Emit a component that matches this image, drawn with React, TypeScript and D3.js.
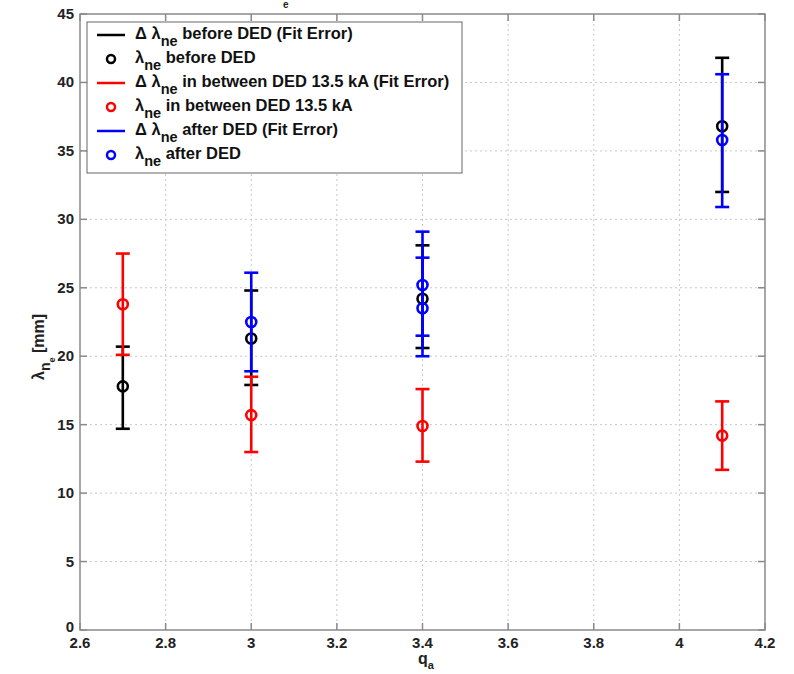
import { useEffect, useRef } from 'react';
import * as d3 from 'd3';

// before DED
const beforeX = [2.7, 3.0, 3.4, 4.1];
const beforeY = [17.8, 21.3, 24.2, 36.8];
const beforeLo = [14.7, 17.9, 20.6, 32.0];
const beforeHi = [20.7, 24.8, 28.1, 41.8];

// in between DED 13.5 kA
const betweenX = [2.7, 3.0, 3.4, 4.1];
const betweenY = [23.8, 15.7, 14.9, 14.2];
const betweenLo = [20.1, 13.0, 12.3, 11.7];
const betweenHi = [27.5, 18.5, 17.6, 16.7];

// after DED
const afterX = [3.0, 3.4, 3.4, 4.1];
const afterY = [22.5, 25.2, 23.5, 35.8];
const afterLo = [18.9, 21.5, 20.0, 30.9];
const afterHi = [26.1, 29.1, 27.2, 40.6];

const xTicks = [2.6, 2.8, 3, 3.2, 3.4, 3.6, 3.8, 4, 4.2];
const yTicks = [0, 5, 10, 15, 20, 25, 30, 35, 40, 45];

const legendLabels = [
  { pre: 'Δ λ', post: ' before DED (Fit Error)' },
  { pre: 'λ', post: ' before DED' },
  { pre: 'Δ λ', post: ' in between DED 13.5 kA (Fit Error)' },
  { pre: 'λ', post: ' in between DED 13.5 kA' },
  { pre: 'Δ λ', post: ' after DED (Fit Error)' },
  { pre: 'λ', post: ' after DED' },
];

export default function App() {
  const svgRef = useRef<SVGSVGElement>(null);

  useEffect(() => {
    if (!svgRef.current) return;
    const svg = d3.select(svgRef.current);
    svg.selectAll('*').remove();

    const font = 'Arial, "Liberation Sans", sans-serif';
    const left = 80, right = 765, top = 14, bottom = 630;

    const x = d3.scaleLinear().domain([2.6, 4.2]).range([left, right]);
    const y = d3.scaleLinear().domain([0, 45]).range([bottom, top]);

    svg.append('rect').attr('width', 794).attr('height', 674).attr('fill', 'white');

    // grid
    const grid = svg.append('g').attr('stroke', '#c8c8c8').attr('stroke-width', 1)
      .attr('stroke-dasharray', '2,3');
    xTicks.slice(1, -1).forEach(t => {
      grid.append('line').attr('x1', x(t)).attr('x2', x(t)).attr('y1', top).attr('y2', bottom);
    });
    yTicks.slice(1, -1).forEach(t => {
      grid.append('line').attr('x1', left).attr('x2', right).attr('y1', y(t)).attr('y2', y(t));
    });

    // frame + inward ticks
    const frame = svg.append('g').attr('stroke', '#8a8a8a').attr('stroke-width', 1.5).attr('fill', 'none');
    frame.append('rect').attr('x', left).attr('y', top).attr('width', right - left).attr('height', bottom - top);
    xTicks.forEach(t => {
      frame.append('line').attr('x1', x(t)).attr('x2', x(t)).attr('y1', bottom).attr('y2', bottom - 7);
      frame.append('line').attr('x1', x(t)).attr('x2', x(t)).attr('y1', top).attr('y2', top + 7);
    });
    yTicks.forEach(t => {
      frame.append('line').attr('x1', left).attr('x2', left + 7).attr('y1', y(t)).attr('y2', y(t));
      frame.append('line').attr('x1', right).attr('x2', right - 7).attr('y1', y(t)).attr('y2', y(t));
    });

    // tick labels
    svg.append('g').selectAll('text').data(xTicks).join('text')
      .attr('x', d => x(d)).attr('y', 648)
      .attr('text-anchor', 'middle')
      .attr('font-family', font).attr('font-weight', 'bold').attr('font-size', 15)
      .attr('fill', '#222')
      .text(d => String(d));
    svg.append('g').selectAll('text').data(yTicks).join('text')
      .attr('x', 74).attr('y', d => y(d) + (d === 0 ? 2 : 5))
      .attr('text-anchor', 'end')
      .attr('font-family', font).attr('font-weight', 'bold').attr('font-size', 15)
      .attr('fill', '#222')
      .text(d => String(d));

    // axis labels
    const xl = svg.append('text').attr('x', 418).attr('y', 664)
      .attr('font-family', font).attr('font-weight', 'bold').attr('font-size', 16).attr('fill', '#222');
    xl.append('tspan').text('q');
    xl.append('tspan').attr('dy', 5).attr('font-size', 11).text('a');

    const yl = svg.append('text')
      .attr('transform', 'translate(44,380) rotate(-90)')
      .attr('font-family', font).attr('font-weight', 'bold').attr('font-size', 16).attr('fill', '#222');
    yl.append('tspan').text('λ');
    yl.append('tspan').attr('dy', 6).attr('font-size', 14).text('n');
    yl.append('tspan').attr('dy', 5).attr('font-size', 9).text('e');
    yl.append('tspan').attr('dy', -11).text(' [mm]');

    // cut-off title remnant
    svg.append('text').attr('x', 283).attr('y', 8)
      .attr('font-family', font).attr('font-weight', 'bold').attr('font-size', 10).attr('fill', '#222')
      .text('e');

    // error bar series
    const series = [
      { xs: beforeX, ys: beforeY, lo: beforeLo, hi: beforeHi, color: 'black' },
      { xs: betweenX, ys: betweenY, lo: betweenLo, hi: betweenHi, color: 'red' },
      { xs: afterX, ys: afterY, lo: afterLo, hi: afterHi, color: 'blue' },
    ];
    const capW = 7;
    series.forEach(s => {
      const g = svg.append('g').attr('stroke', s.color).attr('stroke-width', 2.6).attr('fill', 'none');
      s.xs.forEach((xv, i) => {
        const px = x(xv);
        g.append('line').attr('x1', px).attr('x2', px).attr('y1', y(s.lo[i])).attr('y2', y(s.hi[i]));
        g.append('line').attr('x1', px - capW).attr('x2', px + capW).attr('y1', y(s.lo[i])).attr('y2', y(s.lo[i]));
        g.append('line').attr('x1', px - capW).attr('x2', px + capW).attr('y1', y(s.hi[i])).attr('y2', y(s.hi[i]));
        g.append('circle').attr('cx', px).attr('cy', y(s.ys[i])).attr('r', 5);
      });
    });

    // legend
    const lg = svg.append('g');
    lg.append('rect').attr('x', 87).attr('y', 22).attr('width', 375).attr('height', 151)
      .attr('fill', 'white').attr('stroke', '#666').attr('stroke-width', 1);
    const colors = ['black', 'black', 'red', 'red', 'blue', 'blue'];
    legendLabels.forEach((l, i) => {
      const cy = 35 + i * 24;
      if (i % 2 === 0) {
        lg.append('line').attr('x1', 97).attr('x2', 125).attr('y1', cy).attr('y2', cy)
          .attr('stroke', colors[i]).attr('stroke-width', 2.5);
      } else {
        lg.append('circle').attr('cx', 111).attr('cy', cy).attr('r', 4)
          .attr('fill', 'none').attr('stroke', colors[i]).attr('stroke-width', 2.5);
      }
      const t = lg.append('text').attr('x', 135).attr('y', cy + 4)
        .attr('font-family', font).attr('font-weight', 'bold').attr('font-size', 16.5).attr('fill', '#111');
      t.append('tspan').text(l.pre);
      t.append('tspan').attr('dy', 7).attr('font-size', 14.5).text('ne');
      t.append('tspan').attr('dy', -7).text(l.post);
    });
  }, []);

  return (
    <svg ref={svgRef} width={794} height={674}
      style={{ position: 'absolute', left: 0, top: 0, display: 'block' }} />
  );
}
